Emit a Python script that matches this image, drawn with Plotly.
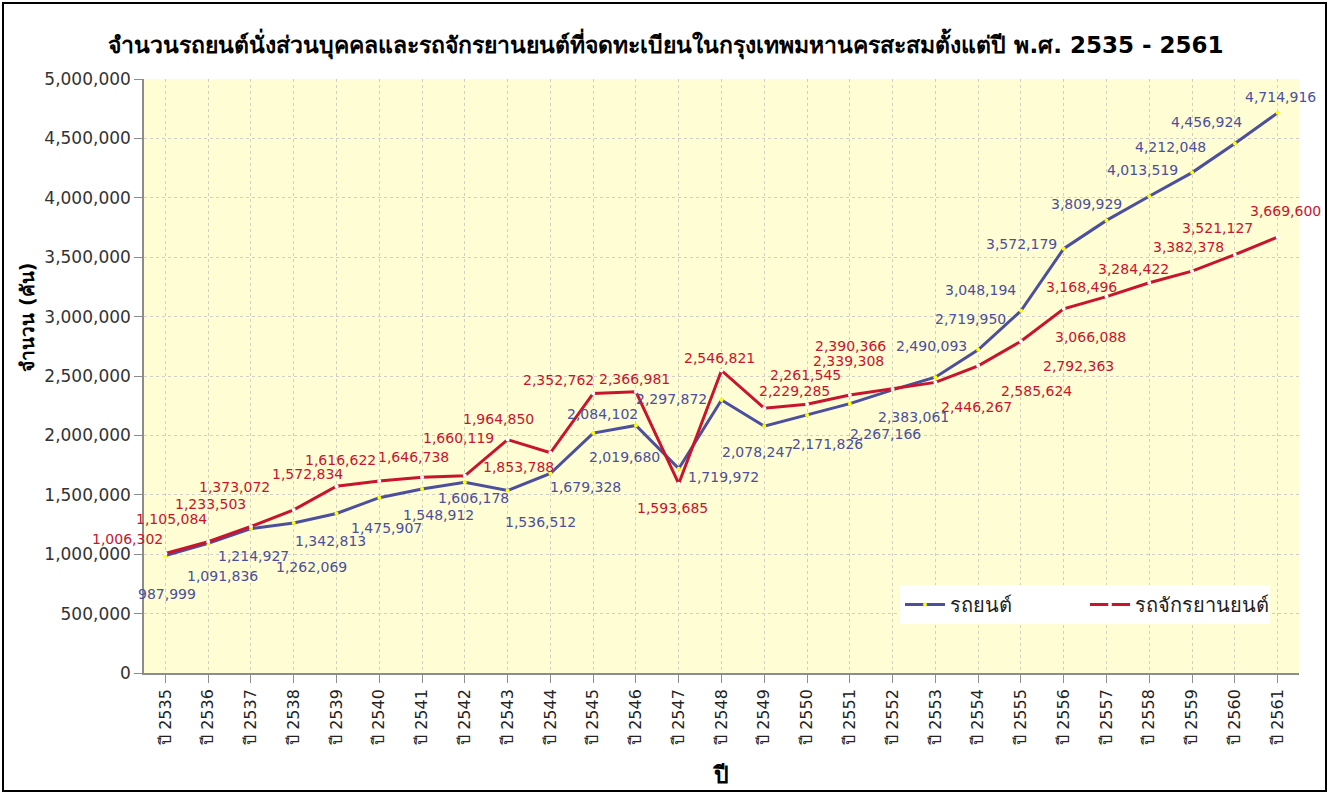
import plotly.graph_objects as go

years = [str(y) for y in range(2535, 2562)]
tick_labels = ["ปี " + y for y in years]

cars = [987999, 1091836, 1214927, 1262069, 1342813, 1475907, 1548912, 1606178,
        1536512, 1679328, 2019680, 2084102, 1719972, 2297872, 2078247, 2171826,
        2267166, 2383061, 2490093, 2719950, 3048194, 3572179, 3809929, 4013519,
        4212048, 4456924, 4714916]
motorcycles = [1006302, 1105084, 1233503, 1373072, 1572834, 1616622, 1646738, 1660119,
               1964850, 1853788, 2352762, 2366981, 1593685, 2546821, 2229285, 2261545,
               2339308, 2390366, 2446267, 2585624, 2792363, 3066088, 3168496, 3284422,
               3382378, 3521127, 3669600]

title_text = "จำนวนรถยนต์นั่งส่วนบุคคลและรถจักรยานยนต์ที่จดทะเบียนในกรุงเทพมหานครสะสมตั้งแต่ปี พ.ศ. 2535 - 2561"
series_names = ["รถยนต์", "รถจักรยานยนต์"]
y_title = "จำนวน (คัน)"
x_title = "ปี"

# label placement offsets (screen px: dx right, dy down) - styling only
car_label_off = [(2, 38), (14, 33), (3, 27), (18, 44), (-6, 28), (7, 30), (16, 26), (9, 16),
                 (33, 32), (35, 13), (31, 24), (-33, -11), (45, 8), (-50, -1), (-7, 26),
                 (20, 29), (36, 30), (21, 27), (-4, -31), (-8, -31), (-40, -21), (-42, -5),
                 (-20, -16), (-7, -26), (-22, -26), (-28, -22), (3, -16)]
moto_label_off = [(-38, -14), (-37, -23), (-40, -22), (-59, -23), (-29, -12), (-39, -21),
                  (-9, -20), (-6, -38), (-9, -21), (-32, 14), (-35, -13), (-1, -13), (-6, 24),
                  (-2, -12), (30, -17), (-2, -29), (-1, -34), (-42, -43), (41, 25), (58, 25),
                  (58, 25), (27, 28), (-25, -10), (-16, -14), (-4, -24), (-17, -27), (8, -26)]

BLUE = "#4B4F9E"
RED = "#C8142D"
FONT = "Tahoma, 'DejaVu Sans', sans-serif"

fig = go.Figure()
fig.add_trace(go.Scatter(x=years, y=cars, name=series_names[0], mode="lines+markers",
                         line=dict(color=BLUE, width=3),
                         marker=dict(color="#FFFF00", size=4, line=dict(width=0))))
fig.add_trace(go.Scatter(x=years, y=motorcycles, name=series_names[1], mode="lines+markers",
                         line=dict(color=RED, width=3),
                         marker=dict(color="#FFFFFF", size=4, line=dict(width=0))))

annotations = []
for i, (v, (dx, dy)) in enumerate(zip(cars, car_label_off)):
    annotations.append(dict(x=i, y=v, xref="x", yref="y", text=f"{v:,}", showarrow=False,
                            xanchor="center", yanchor="middle",
                            xshift=dx, yshift=-dy, font=dict(family=FONT, size=14, color=BLUE)))
for i, (v, (dx, dy)) in enumerate(zip(motorcycles, moto_label_off)):
    annotations.append(dict(x=i, y=v, xref="x", yref="y", text=f"{v:,}", showarrow=False,
                            xanchor="center", yanchor="middle",
                            xshift=dx, yshift=-dy, font=dict(family=FONT, size=14, color=RED)))

annotations.append(dict(x=-0.101, y=0.599, xref="paper", yref="paper", text="<b>" + y_title + "</b>",
                        showarrow=False, textangle=-90, xanchor="center", yanchor="middle",
                        font=dict(family=FONT, size=19, color="#000")))
annotations.append(dict(x=0.499, y=-0.172, xref="paper", yref="paper", text="<b>" + x_title + "</b>",
                        showarrow=False, xanchor="center", yanchor="middle",
                        font=dict(family=FONT, size=23, color="#000")))

W, H = 1332, 794
L, R, T, B = 144, 33, 79, 121
pw, ph = W - L - R, H - T - B

def px_x(p):
    return (p - L) / pw

def px_y(p):
    return (H - B - p) / ph

fig.update_layout(
    width=W, height=H,
    margin=dict(l=L, r=R, t=T, b=B, autoexpand=False),
    paper_bgcolor="white",
    plot_bgcolor="#FFFDD3",
    title=dict(text="<b>" + title_text + "</b>", x=0.5, xref="container", xanchor="center",
               y=1 - 45 / H, yref="container", yanchor="middle",
               font=dict(family=FONT, size=23, color="#000")),
    font=dict(family=FONT, color="#333"),
    showlegend=True,
    legend=dict(orientation="h", x=px_x(900), y=px_y(585), xanchor="left", yanchor="top",
                bgcolor="white", font=dict(family=FONT, size=20, color="#222"),
                entrywidth=130, itemwidth=40, tracegroupgap=0),
    annotations=annotations,
    shapes=[dict(type="rect", xref="paper", yref="paper",
                 x0=px_x(3), x1=px_x(1326), y0=px_y(791), y1=px_y(3),
                 line=dict(color="#000", width=2), fillcolor="rgba(0,0,0,0)", layer="below")],
)

fig.update_xaxes(
    type="category", range=[-0.5, len(years) - 0.5],
    tickmode="array", tickvals=years, ticktext=tick_labels, tickangle=-90,
    tickfont=dict(family=FONT, size=16, color="#222"),
    showline=True, linecolor="#8C8C8C", linewidth=1.5,
    ticks="outside", ticklen=8, tickcolor="#8C8C8C",
    showgrid=True, gridcolor="#CFCFC4", griddash="dot", gridwidth=1,
    zeroline=False,
)
fig.update_yaxes(
    range=[0, 5000000], tick0=0, dtick=500000, tickformat=",d",
    tickfont=dict(family=FONT, size=17, color="#333"),
    showline=True, linecolor="#8C8C8C", linewidth=1.5,
    ticks="outside", ticklen=8, tickcolor="#8C8C8C",
    showgrid=True, gridcolor="#CFCFC4", griddash="dot", gridwidth=1,
    zeroline=False,
)

fig.write_html("out.html", config={"displayModeBar": False},
               post_script="document.body.style.margin='0px';document.body.style.overflow='hidden';")
